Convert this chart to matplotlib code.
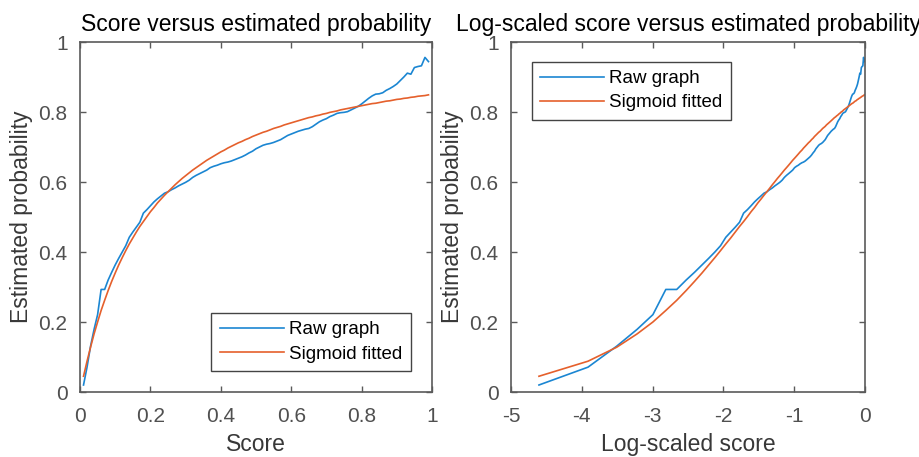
import matplotlib
matplotlib.use('Agg')
import matplotlib.pyplot as plt
import numpy as np

plt.rcParams['font.family'] = ['Liberation Sans', 'DejaVu Sans']

# scores 0.01 .. 0.99
score = [
    0.01, 0.02, 0.03, 0.04, 0.05, 0.06, 0.07, 0.08, 0.09, 0.10,
    0.11, 0.12, 0.13, 0.14, 0.15, 0.16, 0.17, 0.18, 0.19, 0.20,
    0.21, 0.22, 0.23, 0.24, 0.25, 0.26, 0.27, 0.28, 0.29, 0.30,
    0.31, 0.32, 0.33, 0.34, 0.35, 0.36, 0.37, 0.38, 0.39, 0.40,
    0.41, 0.42, 0.43, 0.44, 0.45, 0.46, 0.47, 0.48, 0.49, 0.50,
    0.51, 0.52, 0.53, 0.54, 0.55, 0.56, 0.57, 0.58, 0.59, 0.60,
    0.61, 0.62, 0.63, 0.64, 0.65, 0.66, 0.67, 0.68, 0.69, 0.70,
    0.71, 0.72, 0.73, 0.74, 0.75, 0.76, 0.77, 0.78, 0.79, 0.80,
    0.81, 0.82, 0.83, 0.84, 0.85, 0.86, 0.87, 0.88, 0.89, 0.90,
    0.91, 0.92, 0.93, 0.94, 0.95, 0.96, 0.97, 0.98, 0.99,
]

raw_prob = [
    0.020, 0.071, 0.131, 0.179, 0.221, 0.293, 0.293, 0.320, 0.342, 0.363,
    0.382, 0.400, 0.418, 0.442, 0.457, 0.471, 0.485, 0.511, 0.521, 0.532,
    0.543, 0.552, 0.560, 0.568, 0.572, 0.578, 0.583, 0.589, 0.594, 0.599,
    0.605, 0.613, 0.619, 0.624, 0.629, 0.634, 0.641, 0.645, 0.648, 0.652,
    0.655, 0.657, 0.660, 0.664, 0.668, 0.672, 0.677, 0.683, 0.688, 0.695,
    0.700, 0.705, 0.708, 0.710, 0.713, 0.717, 0.721, 0.727, 0.733, 0.737,
    0.741, 0.745, 0.748, 0.751, 0.753, 0.758, 0.765, 0.772, 0.777, 0.781,
    0.787, 0.791, 0.796, 0.798, 0.799, 0.801, 0.806, 0.811, 0.816, 0.823,
    0.831, 0.839, 0.846, 0.851, 0.852, 0.855, 0.862, 0.867, 0.873, 0.880,
    0.890, 0.900, 0.911, 0.908, 0.927, 0.930, 0.932, 0.956, 0.944,
]

sigmoid_prob = [
    0.045, 0.088, 0.128, 0.166, 0.200, 0.233, 0.262, 0.290, 0.316, 0.340,
    0.363, 0.384, 0.404, 0.423, 0.440, 0.457, 0.473, 0.487, 0.501, 0.515,
    0.527, 0.540, 0.551, 0.562, 0.572, 0.582, 0.592, 0.601, 0.610, 0.618,
    0.626, 0.634, 0.641, 0.648, 0.655, 0.662, 0.668, 0.674, 0.680, 0.686,
    0.691, 0.697, 0.702, 0.707, 0.712, 0.716, 0.721, 0.725, 0.730, 0.734,
    0.738, 0.742, 0.745, 0.749, 0.753, 0.756, 0.759, 0.763, 0.766, 0.769,
    0.772, 0.775, 0.778, 0.781, 0.784, 0.786, 0.789, 0.791, 0.794, 0.796,
    0.799, 0.801, 0.803, 0.806, 0.808, 0.810, 0.812, 0.814, 0.816, 0.818,
    0.820, 0.822, 0.824, 0.825, 0.827, 0.829, 0.831, 0.832, 0.834, 0.836,
    0.837, 0.839, 0.840, 0.842, 0.843, 0.845, 0.846, 0.847, 0.849,
]

prob_ticks = [0, 0.2, 0.4, 0.6, 0.8, 1]
prob_ticklabels = ['0', '0.2', '0.4', '0.6', '0.8', '1']
score_ticks = [0, 0.2, 0.4, 0.6, 0.8, 1]
score_ticklabels = ['0', '0.2', '0.4', '0.6', '0.8', '1']
log_ticks = [-5, -4, -3, -2, -1, 0]
log_ticklabels = ['-5', '-4', '-3', '-2', '-1', '0']

blue = '#1b86d2'
orange = '#e5602c'
axcol = '#5a5a5a'
tickcol = '#505050'

fig = plt.figure(figsize=(9.19, 4.57), dpi=100)
ax1 = fig.add_axes([80 / 919, 1 - 392 / 457, 352 / 919, 350 / 457])
ax2 = fig.add_axes([511 / 919, 1 - 392 / 457, 354 / 919, 350 / 457])

log_score = np.log(np.array(score))


def style(ax):
    for sp in ax.spines.values():
        sp.set_color(axcol)
        sp.set_linewidth(1.2)
    ax.tick_params(direction='in', length=4, width=1.0, color=axcol,
                   top=True, right=True, labelsize=15, labelcolor=tickcol)
    ax.tick_params(axis='x', pad=11)
    ax.tick_params(axis='y', pad=9)
    ax.set_ylim(0, 1)
    ax.set_yticks(prob_ticks)
    ax.set_yticklabels(prob_ticklabels)
    ax.set_ylabel('Estimated probability', fontsize=16.5, color='#383838',
                  labelpad=4)


def legend(ax, loc, anchor):
    leg = ax.legend(loc=loc, bbox_to_anchor=anchor, borderaxespad=0,
                    fontsize=13.5, handlelength=3.4, handletextpad=0.3,
                    labelspacing=0.38, borderpad=0.45, fancybox=False,
                    framealpha=1, edgecolor='#444444')
    leg.get_frame().set_linewidth(1.0)


# left: score vs probability
ax1.plot(score, raw_prob, color=blue, lw=1.2, label='Raw graph')
ax1.plot(score, sigmoid_prob, color=orange, lw=1.2, label='Sigmoid fitted')
style(ax1)
ax1.set_xlim(0, 1)
ax1.set_xticks(score_ticks)
ax1.set_xticklabels(score_ticklabels)
ax1.set_xlabel('Score', fontsize=16.5, color='#383838', labelpad=5)
ax1.set_title('Score versus estimated probability', fontsize=16.5, pad=8)
legend(ax1, 'lower right', (0.94, 0.06))

# right: log-scaled score vs probability
ax2.plot(log_score, raw_prob, color=blue, lw=1.2, label='Raw graph')
ax2.plot(log_score, sigmoid_prob, color=orange, lw=1.2, label='Sigmoid fitted')
style(ax2)
ax2.set_xlim(-5, 0)
ax2.set_xticks(log_ticks)
ax2.set_xticklabels(log_ticklabels)
ax2.set_xlabel('Log-scaled score', fontsize=16.5, color='#383838', labelpad=5)
ax2.set_title('Log-scaled score versus estimated probability', fontsize=16.5,
              pad=8)
legend(ax2, 'upper left', (0.058, 0.944))

fig.savefig('out.png', dpi=100, facecolor='white')
